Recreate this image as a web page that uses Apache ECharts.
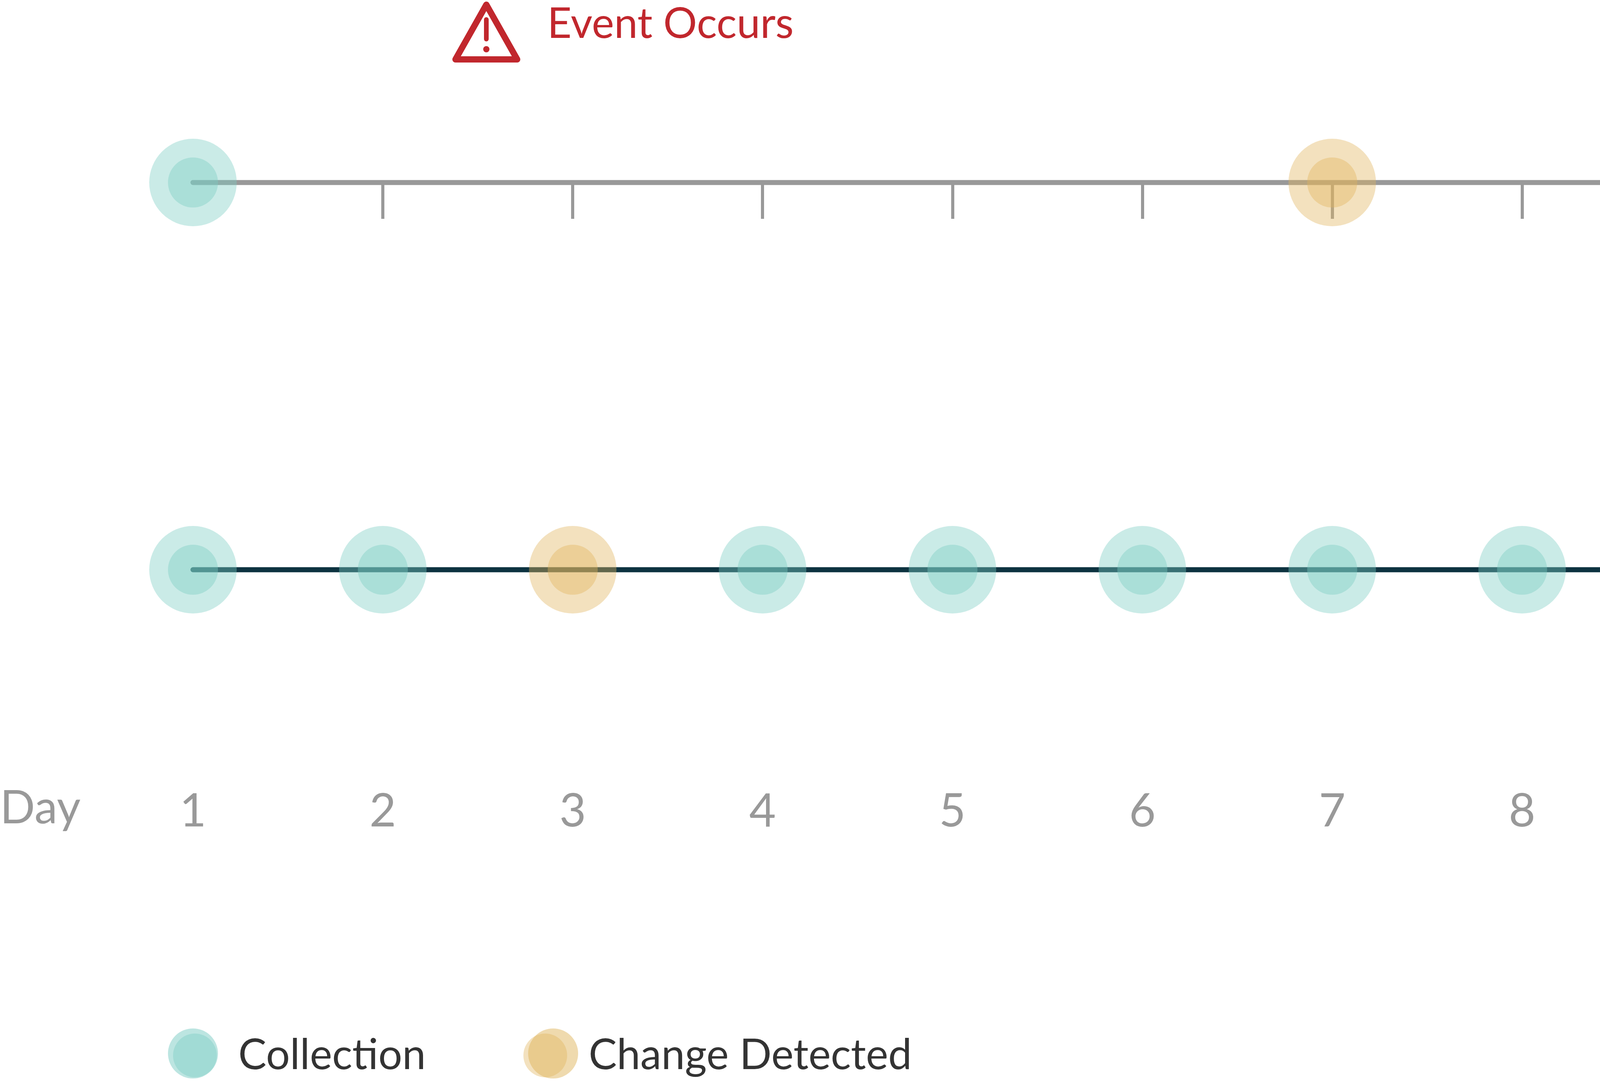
<!DOCTYPE html>
<html><head><meta charset="utf-8">
<script src="https://cdn.jsdelivr.net/npm/echarts@6/dist/echarts.min.js"></script>
<style>html,body{margin:0;padding:0;background:#fff}#c{width:7011px;height:2769px}</style>
</head><body><div id="c"></div>
<script>
const days = [1,2,3,4,5,6,7,8,9,10,11,12,13,14];
const dayLabels = ['1','2','3','4','5','6','7','8','9','10','11','12','13','14'];
const topTickDays = [2,3,4,5,6,7,8,9,11,12,13,14];
const topCollection = [1,14];
const topChange = [7];
const bottomCollection = [1,2,4,5,6,7,8,9,10,11,12,13,14];
const bottomChange = [3];
const eventDay = 2.55;
const TOP = 1, BOT = 0;

const teal = 'rgba(122,204,196,0.5)';
const gold = 'rgba(224,181,93,0.5)';
const FONT = 'Lato';
const pts = (arr, y) => arr.map(d => [d, y]);
function dots(name, data, color) {
  return [
    {type:'scatter', name, data, symbolSize:224, itemStyle:{color}, z:5, clip:false},
    {type:'scatter', name, data, symbolSize:128, itemStyle:{color}, z:6, clip:false}
  ];
}
const chart = echarts.init(document.getElementById('c'));
chart.setOption({
  animation:false,
  grid:{left:494, right:198, top:467, bottom:1311},
  xAxis:[
    {type:'value', min:1, max:14, interval:1, position:'bottom',
     axisLine:{show:false}, axisTick:{show:false}, splitLine:{show:false},
     axisLabel:{margin:560, fontSize:118, color:'#999', fontFamily:FONT,
       customValues:days, formatter:v=>dayLabels[days.indexOf(v)]}},
    {type:'value', min:1, max:14, interval:1, position:'top',
     axisLine:{show:false}, splitLine:{show:false}, axisLabel:{show:false},
     axisTick:{show:true, inside:true, length:93, customValues:topTickDays,
       lineStyle:{color:'#999', width:8}}}
  ],
  yAxis:{type:'value', min:0, max:1, show:false},
  legend:{left:438, top:2640, itemWidth:112, itemHeight:112, itemGap:250, icon:'circle',
    data:['Collection','Change Detected'],
    textStyle:{fontSize:108, color:'#333', fontFamily:FONT, padding:[0,0,0,50]}},
  series:[
    {type:'line', data:[[1,TOP],[14,TOP]], symbol:'none', lineStyle:{color:'#999', width:13, cap:'round'}, z:2, silent:true},
    {type:'line', data:[[1,BOT],[14,BOT]], symbol:'none', lineStyle:{color:'#0d3340', width:13, cap:'round'}, z:2, silent:true, clip:false,
     markLine:{silent:true, symbol:'none', label:{show:false},
       lineStyle:{color:'#c1272d', width:9, type:[38,22]},
       data:[[{coord:[eventDay,1.244]},{coord:[eventDay,-0.15]}]]}},
    ...dots('Collection', pts(topCollection,TOP).concat(pts(bottomCollection,BOT)), teal),
    ...dots('Change Detected', pts(topChange,TOP).concat(pts(bottomChange,BOT)), gold)
  ],
  graphic:[
    {type:'text', left:0, top:2010, style:{text:'Day', fontSize:118, fill:'#999', fontFamily:FONT}},
    {type:'text', right:229, top:205, style:{text:'Infrequent Missions', fontSize:108, fill:'#000', fontFamily:FONT, fontWeight:500}},
    {type:'text', right:215, top:1090, style:{text:'Science Grade Imagery', fontSize:108, fill:'#000', fontFamily:FONT, fontWeight:500}},
    {type:'text', left:1401, top:8, style:{text:'Event Occurs', fontSize:108, fill:'#c1272d', fontFamily:FONT}},
    {type:'polygon', shape:{points:[[1245,12],[1324,152],[1166,152]]},
     style:{fill:'none', stroke:'#c1272d', lineWidth:16, lineJoin:'round'}},
    {type:'line', shape:{x1:1245,y1:50,x2:1245,y2:100}, style:{stroke:'#c1272d', lineWidth:12, lineCap:'round'}},
    {type:'circle', shape:{cx:1245, cy:126, r:8}, style:{fill:'#c1272d'}},
    {type:'circle', shape:{cx:494, cy:2696, r:64}, style:{fill:teal}, z:100},
    {type:'circle', shape:{cx:1416, cy:2696, r:64}, style:{fill:gold}, z:100}
  ]
});
</script></body></html>
